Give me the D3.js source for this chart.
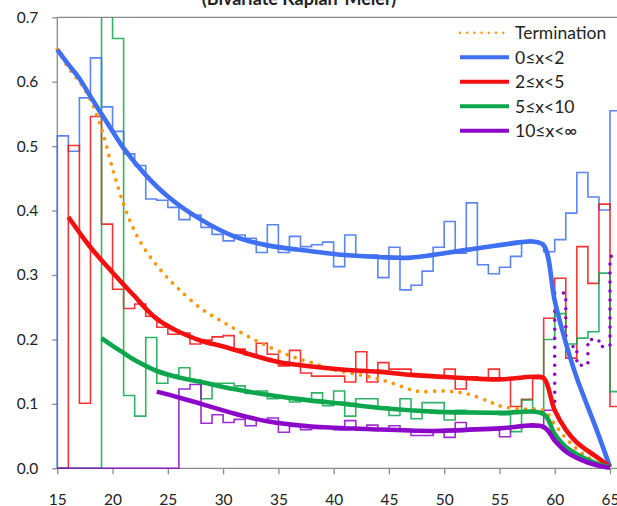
<!DOCTYPE html>
<meta charset="utf-8">
<script src="https://d3js.org/d3.v7.min.js"></script>
<style>
  body { margin: 0; background: #fff; }
  text { font-family: Lato, "Liberation Sans", sans-serif; fill: #222; }
</style>
<div id="my_dataviz"></div>
<script>
// ages (x) for the yearly step series, each value holds from age to age+1
var ages = [15,16,17,18,19,20,21,22,23,24,25,26,27,28,29,30,31,32,33,34,35,36,37,38,39,40,
            41,42,43,44,45,46,47,48,49,50,51,52,53,54,55,56,57,58,59,60,61,62,63,64,65];

var stepBlue = [0.516,0.492,0.575,0.637,0.561,0.523,0.488,0.47,0.418,0.416,
                0.405,0.386,0.393,0.374,0.363,0.353,0.362,0.357,0.335,0.378,
                0.335,0.36,0.344,0.347,0.351,0.313,0.362,0.329,0.331,0.296,
                0.343,0.277,0.284,0.306,0.343,0.383,0.334,0.412,0.316,0.302,
                0.312,0.329,0.353,0.35,0.336,0.355,0.396,0.459,0.421,0.401,
                0.555];
var stepRed = [0,0.501,0.101,0.546,0.379,0.278,0.248,0.255,0.236,0.219,
               0.208,0.21,0.193,0.199,0.204,0.206,0.185,0.176,0.194,0.177,
               0.159,0.183,0.148,0.143,0.143,0.143,0.134,0.181,0.134,0.164,
               0.154,0.154,0.145,0.143,0.142,0.154,0.123,0.142,0.141,0.154,
               0.137,0.096,0.107,0.139,0.233,0.295,0.171,0.344,0.287,0.41,
               0.096];
var stepGreen = [0,0,0,0,0.8,0.667,0.113,0.081,0.203,0.132,
                 0.145,0.156,0.137,0.108,0.132,0.132,0.128,0.116,0.12,0.108,
                 0.111,0.103,0.107,0.117,0.097,0.12,0.081,0.108,0.108,0.095,
                 0.082,0.108,0.077,0.102,0.102,0.075,0.09,0.088,0.085,0.085,
                 0.083,0.057,0.106,0.088,0.2,0.24,0.193,0.202,0.212,0.303,
                 0.119];
var stepPurple = [0,0,0,0,0,0,0,0,0,0,
                  0,0.123,0.13,0.07,0.083,0.071,0.076,0.066,0.075,0.078,
                  0.056,0.065,0.06,0.062,0.063,0.06,0.074,0.059,0.067,0.06,
                  0.066,0.06,0.051,0.051,0.058,0.048,0.071,0.059,0.06,0.06,
                  0.049,0.065,0.066,0.064,0.09,0.272,0.189,0.16,0.2,0.189,
                  0.329];

// smoothed curves
var termAges   = [15,16,17,18,19,20,21,22,23,24,25,26,28,30,33,36,38,40,43,45,47,48,50,52,54,55,57,59,60,61,62,63,64,65];
var termValues = [0.65,0.622,0.6,0.572,0.527,0.465,0.41,0.368,0.338,0.315,0.295,0.278,0.248,0.227,0.198,0.175,0.164,0.153,0.143,0.134,0.122,0.119,0.12,0.116,0.104,0.097,0.092,0.09,0.068,0.047,0.03,0.017,0.007,0];

var fitBlueAges = [15,16,17,18,19,20,21,23,25,28,31,34,38,41,44,47,52,57,58,59,60,61,62,63,64,65];
var fitBlue     = [0.65,0.627,0.605,0.577,0.55,0.523,0.497,0.455,0.422,0.386,0.36,0.346,0.337,0.331,0.328,0.327,0.339,0.351,0.352,0.346,0.26,0.195,0.14,0.095,0.05,0.002];

var fitRedAges = [16,17,18,19,20,21,22,23,24,25,26,28,30,32,35,38,41,44,47,51,55,58,59,60,61,62,63,64,65];
var fitRed     = [0.39,0.366,0.343,0.323,0.304,0.285,0.267,0.248,0.232,0.221,0.212,0.198,0.189,0.179,0.165,0.158,0.153,0.15,0.145,0.141,0.138,0.142,0.14,0.09,0.06,0.04,0.027,0.015,0.002];

var fitGreenAges = [19,20,21,22,24,26,28,31,34,38,41,44,49,55,59,60,61,62,63,64,65];
var fitGreen     = [0.202,0.19,0.179,0.168,0.151,0.141,0.134,0.123,0.114,0.105,0.1,0.094,0.088,0.086,0.084,0.053,0.033,0.022,0.013,0.006,0.002];

var fitPurpleAges = [24,26,28,31,34,38,43,49,55,59,60,61,62,63,64,65];
var fitPurple     = [0.119,0.11,0.1,0.085,0.073,0.065,0.061,0.058,0.062,0.064,0.043,0.026,0.016,0.009,0.004,0.001];

var legendLabels = ["Termination", "0\u2264x<2", "2\u2264x<5", "5\u2264x<10", "10\u2264x<\u221e"];
var xTicks = [15,20,25,30,35,40,45,50,55,60,65];
var yTicks = [0,0.1,0.2,0.3,0.4,0.5,0.6,0.7];

var colors = {orange: "#f7980f", blue: "#3f6ff2", red: "#f51010", green: "#0da64c", purple: "#8c08c9"};

var W = 617, H = 506;
var margin = {top: 17.3, left: 57.3},
    width = 552.7,
    height = 451;

var svg0 = d3.select("#my_dataviz").append("svg")
    .attr("width", W).attr("height", H);

svg0.append("text")
    .attr("x", 299).attr("y", 5)
    .attr("text-anchor", "middle")
    .style("font-size", "18px").style("font-weight", "bold")
    .text("(Bivariate Kaplan-Meier)");

var svg = svg0.append("g")
    .attr("transform", "translate(" + margin.left + "," + margin.top + ")");

var x = d3.scaleLinear().domain([15, 65]).range([0, width]);
var y = d3.scaleLinear().domain([0, 0.7]).range([height, 0]);

svg.append("defs").append("clipPath").attr("id", "plotclip")
  .append("rect")
    .attr("x", -4).attr("y", 0)
    .attr("width", W - margin.left + 4).attr("height", height + 4);

// axes
var axisColor = "#8a8a8a";
var yAxis = svg.append("g")
    .call(d3.axisLeft(y).tickValues(yTicks).tickFormat(d3.format(".1f")).tickSize(5).tickPadding(14));
var xAxis = svg.append("g")
    .attr("transform", "translate(0," + height + ")")
    .call(d3.axisBottom(x).tickValues(xTicks).tickSize(6).tickPadding(20));
[xAxis, yAxis].forEach(function(a) {
  a.select(".domain").remove();
  a.selectAll("line").attr("stroke", axisColor).attr("stroke-width", 1.3);
  a.selectAll("text").style("font-size", "15.5px").attr("fill", "#222");
});
svg.append("line").attr("x1", 0).attr("x2", 0).attr("y1", 0).attr("y2", height)
    .attr("stroke", axisColor).attr("stroke-width", 1.3);
svg.append("line").attr("x1", 0).attr("x2", W - margin.left).attr("y1", height).attr("y2", height)
    .attr("stroke", axisColor).attr("stroke-width", 1.3);
svg.append("line").attr("x1", 0).attr("x2", W - margin.left).attr("y1", 0).attr("y2", 0)
    .attr("stroke", axisColor).attr("stroke-width", 1.3);

var plot = svg.append("g").attr("clip-path", "url(#plotclip)");

// yearly step series
var stepLine = d3.line()
    .x(function(d) { return x(d[0]); })
    .y(function(d) { return y(d[1]); })
    .curve(d3.curveStepAfter);

function stepPoints(vals, fromAge, toAge, startVal) {
  var pts = [[fromAge, startVal]];
  var last = startVal;
  ages.forEach(function(a, i) {
    if (a >= fromAge && a < toAge) { pts.push([a, vals[i]]); last = vals[i]; }
  });
  pts.push([toAge, last]);
  return pts;
}

var steps = [
  {vals: stepBlue,   color: colors.blue},
  {vals: stepRed,    color: colors.red},
  {vals: stepGreen,  color: colors.green},
  {vals: stepPurple, color: colors.purple, dottedFrom: 60}
];

steps.forEach(function(s) {
  var end = s.dottedFrom || 66;
  plot.append("path")
      .attr("d", stepLine(stepPoints(s.vals, 15, end, 0)))
      .attr("fill", "none").attr("stroke", s.color)
      .attr("stroke-width", 1.6).attr("stroke-opacity", 0.85);
  if (s.dottedFrom) {
    var prev = s.vals[ages.indexOf(s.dottedFrom - 1)];
    plot.append("path")
        .attr("d", stepLine(stepPoints(s.vals, s.dottedFrom, 66, prev)))
        .attr("fill", "none").attr("stroke", s.color)
        .attr("stroke-width", 3.6).attr("stroke-linecap", "round")
        .attr("stroke-dasharray", "0 9");
  }
});

// smoothed curves
var fitLine = d3.line()
    .x(function(d) { return x(d[0]); })
    .y(function(d) { return y(d[1]); })
    .curve(d3.curveCatmullRom.alpha(0.5));

function pairs(a, v) { return a.map(function(d, i) { return [d, v[i]]; }); }

plot.append("path")
    .attr("d", fitLine(pairs(termAges, termValues)))
    .attr("fill", "none").attr("stroke", colors.orange)
    .attr("stroke-width", 3.8).attr("stroke-linecap", "round")
    .attr("stroke-dasharray", "0 8.5");

var fits = [
  {a: fitBlueAges, v: fitBlue, color: colors.blue},
  {a: fitRedAges, v: fitRed, color: colors.red},
  {a: fitGreenAges, v: fitGreen, color: colors.green},
  {a: fitPurpleAges, v: fitPurple, color: colors.purple}
];
fits.forEach(function(f) {
  plot.append("path")
      .attr("d", fitLine(pairs(f.a, f.v)))
      .attr("fill", "none").attr("stroke", f.color)
      .attr("stroke-width", 4.6).attr("stroke-linejoin", "round");
});

// legend
var legendColors = [colors.orange, colors.blue, colors.red, colors.green, colors.purple];
var legend = svg0.append("g");
legendLabels.forEach(function(lab, i) {
  var ly = 32.7 + i * 24.5;
  var ln = legend.append("line")
      .attr("x1", 460).attr("x2", 509).attr("y1", ly).attr("y2", ly)
      .attr("stroke", legendColors[i]);
  if (i == 0) {
    ln.attr("stroke-width", 2.6).attr("stroke-linecap", "round").attr("stroke-dasharray", "0 7.2");
  } else {
    ln.attr("stroke-width", 4);
  }
  legend.append("text")
      .attr("x", 515).attr("y", ly).attr("dy", "0.36em")
      .style("font-size", "17.5px")
      .text(lab);
});
</script>
